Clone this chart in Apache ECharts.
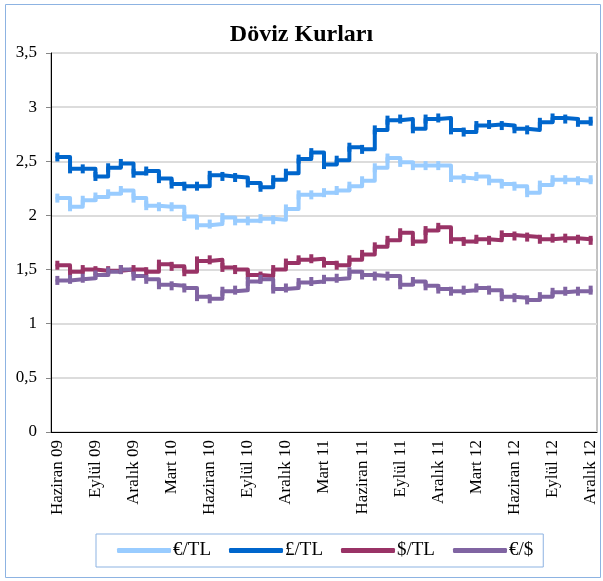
<!DOCTYPE html>
<html>
<head>
<meta charset="utf-8">
<title>Döviz Kurları</title>
<script src="https://cdn.jsdelivr.net/npm/echarts@6/dist/echarts.min.js"></script>
<style>
  html, body { margin: 0; padding: 0; background: #fff; }
  #lineChart { width: 603px; height: 581px; }
</style>
</head>
<body>
<div id="lineChart"></div>
<script>
  let months = ['Haziran 09', 'Temmuz 09', 'Ağustos 09', 'Eylül 09', 'Ekim 09', 'Kasım 09', 'Aralık 09',
    'Ocak 10', 'Şubat 10', 'Mart 10', 'Nisan 10', 'Mayıs 10', 'Haziran 10', 'Temmuz 10', 'Ağustos 10', 'Eylül 10', 'Ekim 10', 'Kasım 10', 'Aralık 10',
    'Ocak 11', 'Şubat 11', 'Mart 11', 'Nisan 11', 'Mayıs 11', 'Haziran 11', 'Temmuz 11', 'Ağustos 11', 'Eylül 11', 'Ekim 11', 'Kasım 11', 'Aralık 11',
    'Ocak 12', 'Şubat 12', 'Mart 12', 'Nisan 12', 'Mayıs 12', 'Haziran 12', 'Temmuz 12', 'Ağustos 12', 'Eylül 12', 'Ekim 12', 'Kasım 12', 'Aralık 12']
  let euroTL = [2.16, 2.08, 2.14, 2.17, 2.20, 2.23, 2.16, 2.09, 2.08, 2.08,
    1.99, 1.91, 1.92, 1.98, 1.95, 1.95, 1.97, 1.96, 2.06, 2.19,
    2.19, 2.21, 2.23, 2.27, 2.32, 2.44, 2.53, 2.49, 2.46, 2.46,
    2.46, 2.35, 2.34, 2.36, 2.32, 2.29, 2.27, 2.21, 2.28, 2.33,
    2.33, 2.32, 2.33]
  let sterlinTL = [2.54, 2.43, 2.43, 2.36, 2.44, 2.48, 2.39, 2.41, 2.34, 2.29,
    2.27, 2.27, 2.37, 2.36, 2.35, 2.30, 2.26, 2.33, 2.39, 2.52,
    2.58, 2.47, 2.51, 2.63, 2.61, 2.79, 2.88, 2.89, 2.80, 2.89,
    2.90, 2.79, 2.77, 2.83, 2.84, 2.83, 2.80, 2.79, 2.86, 2.90,
    2.89, 2.86, 2.87]
  let dolarTL = [1.54, 1.48, 1.50, 1.49, 1.49, 1.50, 1.50, 1.48, 1.55, 1.53,
    1.48, 1.58, 1.59, 1.52, 1.50, 1.45, 1.44, 1.50, 1.56, 1.59,
    1.60, 1.56, 1.54, 1.59, 1.64, 1.71, 1.77, 1.84, 1.76, 1.86,
    1.89, 1.78, 1.76, 1.78, 1.77, 1.82, 1.81, 1.80, 1.78, 1.79,
    1.79, 1.78, 1.77]
  let euroDolar = [1.40, 1.41, 1.42, 1.45, 1.48, 1.50, 1.44, 1.41, 1.36, 1.35,
    1.33, 1.25, 1.23, 1.30, 1.31, 1.39, 1.41, 1.32, 1.33, 1.38,
    1.39, 1.41, 1.42, 1.48, 1.45, 1.44, 1.44, 1.36, 1.39, 1.35,
    1.32, 1.30, 1.31, 1.33, 1.31, 1.25, 1.24, 1.22, 1.25, 1.29,
    1.30, 1.30, 1.31]

  let serif = '"Liberation Serif", "Times New Roman", serif'

  // basamakli cizgi, her ay icin kucuk dikey isaret
  function stepLine (name, data, color) {
    return {
      name: name,
      type: 'line',
      step: 'end',
      data: data,
      showSymbol: true,
      showAllSymbol: true,
      symbol: 'rect',
      symbolSize: [4, 9],
      itemStyle: { color: color },
      lineStyle: { color: color, width: 4, cap: 'round', join: 'round' },
      emphasis: { disabled: true },
      animation: false
    }
  }

  let option = {
    backgroundColor: '#fff',
    title: {
      text: 'Döviz Kurları',
      left: 'center',
      top: 18,
      textStyle: { fontFamily: serif, fontSize: 24, fontWeight: 'bold', color: '#000' }
    },
    graphic: [{
      type: 'rect',
      shape: { x: 5.5, y: 4.5, width: 595, height: 573 },
      style: { fill: 'none', stroke: '#8DB3E2', lineWidth: 1 },
      z: -1
    }],
    legend: {
      left: 96,
      top: 534,
      padding: [7, 10, 7, 21],
      borderColor: '#8DB3E2',
      borderWidth: 1,
      icon: 'roundRect',
      itemWidth: 54,
      itemHeight: 5,
      itemGap: 18,
      textStyle: { fontFamily: serif, fontSize: 19, color: '#000', padding: [0, 0, 0, -3] },
      data: ['€/TL', '£/TL', '$/TL', '€/$']
    },
    grid: {
      left: 51,
      right: 6,
      top: 53,
      bottom: 149,
      show: true,
      borderColor: '#868686',
      borderWidth: 1
    },
    xAxis: {
      type: 'category',
      boundaryGap: true,
      data: months,
      axisLine: { lineStyle: { color: '#000', width: 1 } },
      axisTick: { interval: 2, length: 5, lineStyle: { color: '#000' } },
      axisLabel: {
        interval: 2,
        rotate: 90,
        margin: 8,
        fontFamily: serif,
        fontSize: 17,
        color: '#000'
      },
      splitLine: { show: false }
    },
    yAxis: {
      type: 'value',
      min: 0,
      max: 3.5,
      interval: 0.5,
      axisLine: { show: true, lineStyle: { color: '#000', width: 1 } },
      axisTick: { show: true, length: 5, lineStyle: { color: '#868686' } },
      axisLabel: {
        margin: 14,
        fontFamily: serif,
        fontSize: 17,
        color: '#000',
        formatter: function (v) { return String(v).replace('.', ',') }
      },
      splitLine: { lineStyle: { color: '#DCDCDC', width: 2 } }
    },
    series: [
      stepLine('€/TL', euroTL, '#99CCFF'),
      stepLine('£/TL', sterlinTL, '#0066CC'),
      stepLine('$/TL', dolarTL, '#993366'),
      stepLine('€/$', euroDolar, '#8064A2')
    ]
  }

  let myChart = echarts.init(document.getElementById('lineChart'), null, { renderer: 'canvas' })
  myChart.setOption(option)
</script>
</body>
</html>
